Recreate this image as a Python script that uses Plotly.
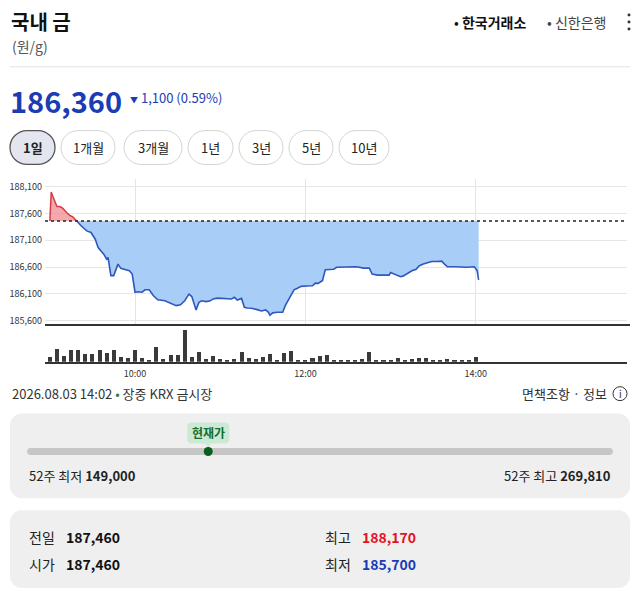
import pandas as pd
import plotly.graph_objects as go

# the page body keeps its 8px margin, so the figure is drawn 8px in from the corner
OX, OY = 8, 8
W, H = 624, 583
DAY = "2026-08-03"
KR = "Noto Sans CJK KR"
NUM = "Liberation Sans Narrow, Noto Sans CJK KR"

# previous close (reference line)
prev_close = 187460

# intraday price
price_times = [
    "09:00", "09:01", "09:02", "09:05", "09:07", "09:09", "09:12", "09:14", "09:16", "09:19",
    "09:22", "09:26", "09:29", "09:32", "09:34", "09:38", "09:40", "09:41", "09:43", "09:45",
    "09:48", "09:50", "09:53", "09:56", "09:58", "10:00", "10:02", "10:05", "10:07", "10:10",
    "10:13", "10:16", "10:21", "10:25", "10:29", "10:32", "10:35", "10:38", "10:40", "10:43",
    "10:45", "10:47", "10:50", "10:53", "10:55", "10:58", "11:01", "11:05", "11:08", "11:10",
    "11:12", "11:15", "11:17", "11:19", "11:22", "11:26", "11:29", "11:32", "11:34", "11:35",
    "11:37", "11:40", "11:44", "11:46", "11:49", "11:52", "11:54", "11:57", "12:01", "12:05",
    "12:07", "12:09", "12:11", "12:12", "12:14", "12:18", "12:20", "12:22", "12:27", "12:32",
    "12:36", "12:41", "12:45", "12:47", "12:51", "12:55", "12:59", "13:00", "13:03", "13:07",
    "13:09", "13:12", "13:15", "13:18", "13:20", "13:23", "13:26", "13:29", "13:33", "13:36",
    "13:38", "13:40", "13:45", "13:49", "13:54", "13:59", "14:01", "14:02",
]
price_values = [
    187460, 188000, 187925, 187730, 187730, 187700, 187615, 187565, 187540, 187460,
    187370, 187275, 187245, 187120, 186965, 186840, 186750, 186780, 186440, 186440,
    186655, 186575, 186550, 186530, 186470, 186130, 186140, 186130, 186175, 186175,
    186065, 185990, 185970, 185930, 185880, 185895, 185970, 186095, 186050, 185800,
    185940, 185970, 185955, 185970, 186005, 186020, 186015, 186015, 186005, 186035,
    185985, 186015, 185850, 185835, 185830, 185805, 185780, 185800, 185755, 185700,
    185745, 185755, 185755, 185890, 186035, 186175, 186200, 186240, 186245, 186250,
    186300, 186295, 186330, 186345, 186550, 186550, 186560, 186595, 186595, 186595,
    186605, 186580, 186580, 186470, 186450, 186450, 186450, 186500, 186470, 186420,
    186435, 186485, 186530, 186560, 186620, 186655, 186685, 186705, 186705, 186710,
    186655, 186605, 186605, 186600, 186595, 186605, 186530, 186360,
]

# 5-minute volume bars, 09:00 .. 14:00
volume_values = [
    1500, 4100, 1700, 3600, 3600, 2400, 2400, 3600, 2700, 3800, 1500, 1300,
    3800, 1300, 500, 4500, 1000, 2000, 2000, 9800, 1500, 3000, 800, 1800,
    800, 600, 800, 3000, 1300, 800, 1500, 2500, 500, 2800, 3300, 500,
    300, 1300, 1900, 2100, 500, 500, 500, 500, 900, 3000, 500, 500,
    500, 1100, 500, 900, 1100, 1100, 500, 500, 900, 500, 500, 500,
    1500,
]

y_ticks = [185600, 186100, 186600, 187100, 187600, 188100]
x_ticks = ["10:00", "12:00", "14:00"]

# header / stats texts
title = "국내 금"
unit = "(원/g)"
last_price = "186,360"
change_text = "1,100 (0.59%)"
periods = ["1일", "1개월", "3개월", "1년", "3년", "5년", "10년"]
low_52w, high_52w, current = 149000, 269810, 186360
stats = [("전일", "187,460", "#111111"), ("시가", "187,460", "#111111"),
         ("최고", "188,170", "#e3141e"), ("최저", "185,700", "#1a3cb4")]


def px_x(x):
    return (x - OX) / W


def px_y(y):
    return 1 - (y - OY) / H


def pt(x, y):
    return f"{px_x(x):.5f},{px_y(y):.5f}"


def rrect(x0, y0, x1, y1, r):
    k = 0.5523 * r
    return (f"M{pt(x0 + r, y0)} L{pt(x1 - r, y0)} "
            f"C{pt(x1 - r + k, y0)} {pt(x1, y0 + r - k)} {pt(x1, y0 + r)} "
            f"L{pt(x1, y1 - r)} "
            f"C{pt(x1, y1 - r + k)} {pt(x1 - r + k, y1)} {pt(x1 - r, y1)} "
            f"L{pt(x0 + r, y1)} "
            f"C{pt(x0 + r - k, y1)} {pt(x0, y1 - r + k)} {pt(x0, y1 - r)} "
            f"L{pt(x0, y0 + r)} "
            f"C{pt(x0, y0 + r - k)} {pt(x0 + r - k, y0)} {pt(x0 + r, y0)} Z")


def note(x, y, text, size=13, color="#222", anchor="left", family=KR):
    return dict(x=px_x(x), y=px_y(y), xref="paper", yref="paper", text=text,
                showarrow=False, xanchor=anchor, yanchor="middle",
                font=dict(family=family, size=size, color=color))


ts = pd.to_datetime([f"{DAY} {t}" for t in price_times])
k = price_values.index(prev_close, 1)
vol_x = pd.date_range(f"{DAY} 09:00", f"{DAY} 14:00", freq="5min")

fig = go.Figure()
fig.add_trace(go.Scatter(x=ts[:k + 1], y=[prev_close] * (k + 1), mode="lines",
                         line=dict(width=0), hoverinfo="skip"))
fig.add_trace(go.Scatter(x=ts[:k + 1], y=price_values[:k + 1], mode="lines",
                         fill="tonexty", fillcolor="rgba(240,140,145,0.75)",
                         line=dict(color="#d63c45", width=1.5)))
fig.add_trace(go.Scatter(x=ts[k:], y=[prev_close] * (len(ts) - k), mode="lines",
                         line=dict(width=0), hoverinfo="skip"))
fig.add_trace(go.Scatter(x=ts[k:], y=price_values[k:], mode="lines",
                         fill="tonexty", fillcolor="#a8cdf7",
                         line=dict(color="#2f58bd", width=1.6)))
fig.add_trace(go.Bar(x=vol_x, y=volume_values, xaxis="x2", yaxis="y2",
                     marker=dict(color="#3a3a3a", line=dict(width=0)), width=170000))

x_range = [f"{DAY} 08:56:36", f"{DAY} 15:46:30"]
tick_dates = [f"{DAY} {t}" for t in x_ticks]
dom_x = [px_x(45), px_x(627)]

shapes = []
annotations = []

# header
annotations.append(note(9, 22, f"<b>{title}</b>", size=20, color="#111"))
annotations.append(note(10, 46, unit, size=14, color="#555"))
annotations.append(note(528, 22, "• <b>한국거래소</b>", size=14, color="#111", anchor="right"))
annotations.append(note(608, 22, "• 신한은행", size=14, color="#444", anchor="right"))
for dy in (15, 22, 29):
    shapes.append(dict(type="circle", xref="paper", yref="paper",
                       x0=px_x(627.5), x1=px_x(630.5), y0=px_y(dy - 1.5), y1=px_y(dy + 1.5),
                       fillcolor="#333", line=dict(width=0)))
shapes.append(dict(type="line", xref="paper", yref="paper", x0=px_x(10), x1=px_x(630),
                   y0=px_y(67), y1=px_y(67), line=dict(color="#e2e2e2", width=1)))
annotations.append(note(8, 100, f"<b>{last_price}</b>", size=29, color="#1a3cb4"))
annotations.append(note(128, 98, f"<span style='font-size:8px'>▼</span> {change_text}",
                        size=13, color="#1a3cb4"))

# period buttons
btn_x = [(10, 55), (61, 115), (124, 182), (188, 233), (239, 283), (289, 333), (339, 389)]
for i, (label, (x0, x1)) in enumerate(zip(periods, btn_x)):
    sel = i == 0
    shapes.append(dict(type="path", xref="paper", yref="paper",
                       path=rrect(x0, 131, x1, 165, 17),
                       fillcolor="#e3e6ee" if sel else "white",
                       line=dict(color="#555" if sel else "#d4d4d4", width=1.3 if sel else 1)))
    annotations.append(note((x0 + x1) / 2, 148, f"<b>{label}</b>" if sel else label,
                            size=13, color="#222", anchor="center"))

# chart decorations
shapes.append(dict(type="line", xref="paper", yref="y", x0=px_x(45), x1=px_x(627),
                   y0=prev_close, y1=prev_close, line=dict(color="#222", width=1.5, dash="dot")))
shapes.append(dict(type="line", xref="paper", yref="paper", x0=px_x(45), x1=px_x(630),
                   y0=px_y(326), y1=px_y(326), line=dict(color="#333", width=2)))

# footer line
annotations.append(note(10, 395, "2026.08.03 14:02 <span style='color:#1b8a3c'>•</span> 장중 KRX 금시장",
                        size=13, color="#333"))
annotations.append(note(609, 395, "면책조항 · 정보", size=13, color="#333", anchor="right"))
shapes.append(dict(type="circle", xref="paper", yref="paper", x0=px_x(613), x1=px_x(627),
                   y0=px_y(402), y1=px_y(388), line=dict(color="#333", width=1)))
annotations.append(note(620, 395, "i", size=10, color="#333", anchor="center"))

# 52-week range panel
shapes.append(dict(type="path", xref="paper", yref="paper", path=rrect(10, 415, 630, 500, 12),
                   fillcolor="#efefef", line=dict(width=0), layer="below"))
shapes.append(dict(type="path", xref="paper", yref="paper", path=rrect(27, 449.5, 613, 456.5, 3.5),
                   fillcolor="#c6c6c6", line=dict(width=0)))
dot_x = 27 + (current - low_52w) / (high_52w - low_52w) * (613 - 27)
shapes.append(dict(type="path", xref="paper", yref="paper", path=rrect(dot_x - 21, 424, dot_x + 21, 445, 4),
                   fillcolor="#cbe9d3", line=dict(width=0)))
shapes.append(dict(type="path", xref="paper", yref="paper",
                   path=f"M{pt(dot_x - 3, 445)} L{pt(dot_x + 3, 445)} L{pt(dot_x, 449)} Z",
                   fillcolor="#cbe9d3", line=dict(width=0)))
shapes.append(dict(type="circle", xref="paper", yref="paper", x0=px_x(dot_x - 4.5), x1=px_x(dot_x + 4.5),
                   y0=px_y(457.5), y1=px_y(448.5), fillcolor="#0b5d1e", line=dict(width=0)))
annotations.append(note(dot_x, 434, "<b>현재가</b>", size=12, color="#166b2e", anchor="center"))
annotations.append(note(27, 477, f"52주 최저 <b>{low_52w:,}</b>", size=13, color="#222"))
annotations.append(note(613, 477, f"52주 최고 <b>{high_52w:,}</b>", size=13, color="#222", anchor="right"))

# daily stats panel
shapes.append(dict(type="path", xref="paper", yref="paper", path=rrect(10, 512, 630, 590, 12),
                   fillcolor="#efefef", line=dict(width=0), layer="below"))
for i, (label, value, color) in enumerate(stats):
    col_x = 27 if i < 2 else 323
    row_y = 539 if i % 2 == 0 else 566
    annotations.append(note(col_x, row_y, label, size=14, color="#222"))
    annotations.append(note(col_x + 37, row_y, f"<b>{value}</b>", size=14, color=color))

fig.update_layout(
    width=W, height=H,
    margin=dict(l=0, r=0, t=0, b=0),
    paper_bgcolor="white", plot_bgcolor="white",
    showlegend=False, bargap=0,
    font=dict(family=KR),
    xaxis=dict(domain=dom_x, range=x_range, type="date", anchor="y",
               tickvals=tick_dates, showticklabels=False, showgrid=True,
               gridcolor="#e4e4e4", gridwidth=1, zeroline=False, showline=False),
    yaxis=dict(domain=[px_y(326), px_y(180)], range=[185520, 188236],
               tickvals=y_ticks, ticktext=[f"{v:,}" for v in y_ticks],
               tickfont=dict(family=NUM, size=9, color="#333"),
               gridcolor="#e6e6e6", zeroline=False, showline=False, ticks="",
               ticklabelstandoff=2),
    xaxis2=dict(domain=dom_x, range=x_range, type="date", anchor="y2",
                tickvals=tick_dates, ticktext=x_ticks,
                tickfont=dict(family=NUM, size=9, color="#333"),
                ticks="", ticklabelstandoff=3,
                showline=True, linecolor="#333", linewidth=1.5,
                showgrid=False, zeroline=False),
    yaxis2=dict(domain=[px_y(363), px_y(329)], range=[0, 10500], visible=False),
    shapes=shapes,
    annotations=annotations,
)

fig.write_html("out.html")
